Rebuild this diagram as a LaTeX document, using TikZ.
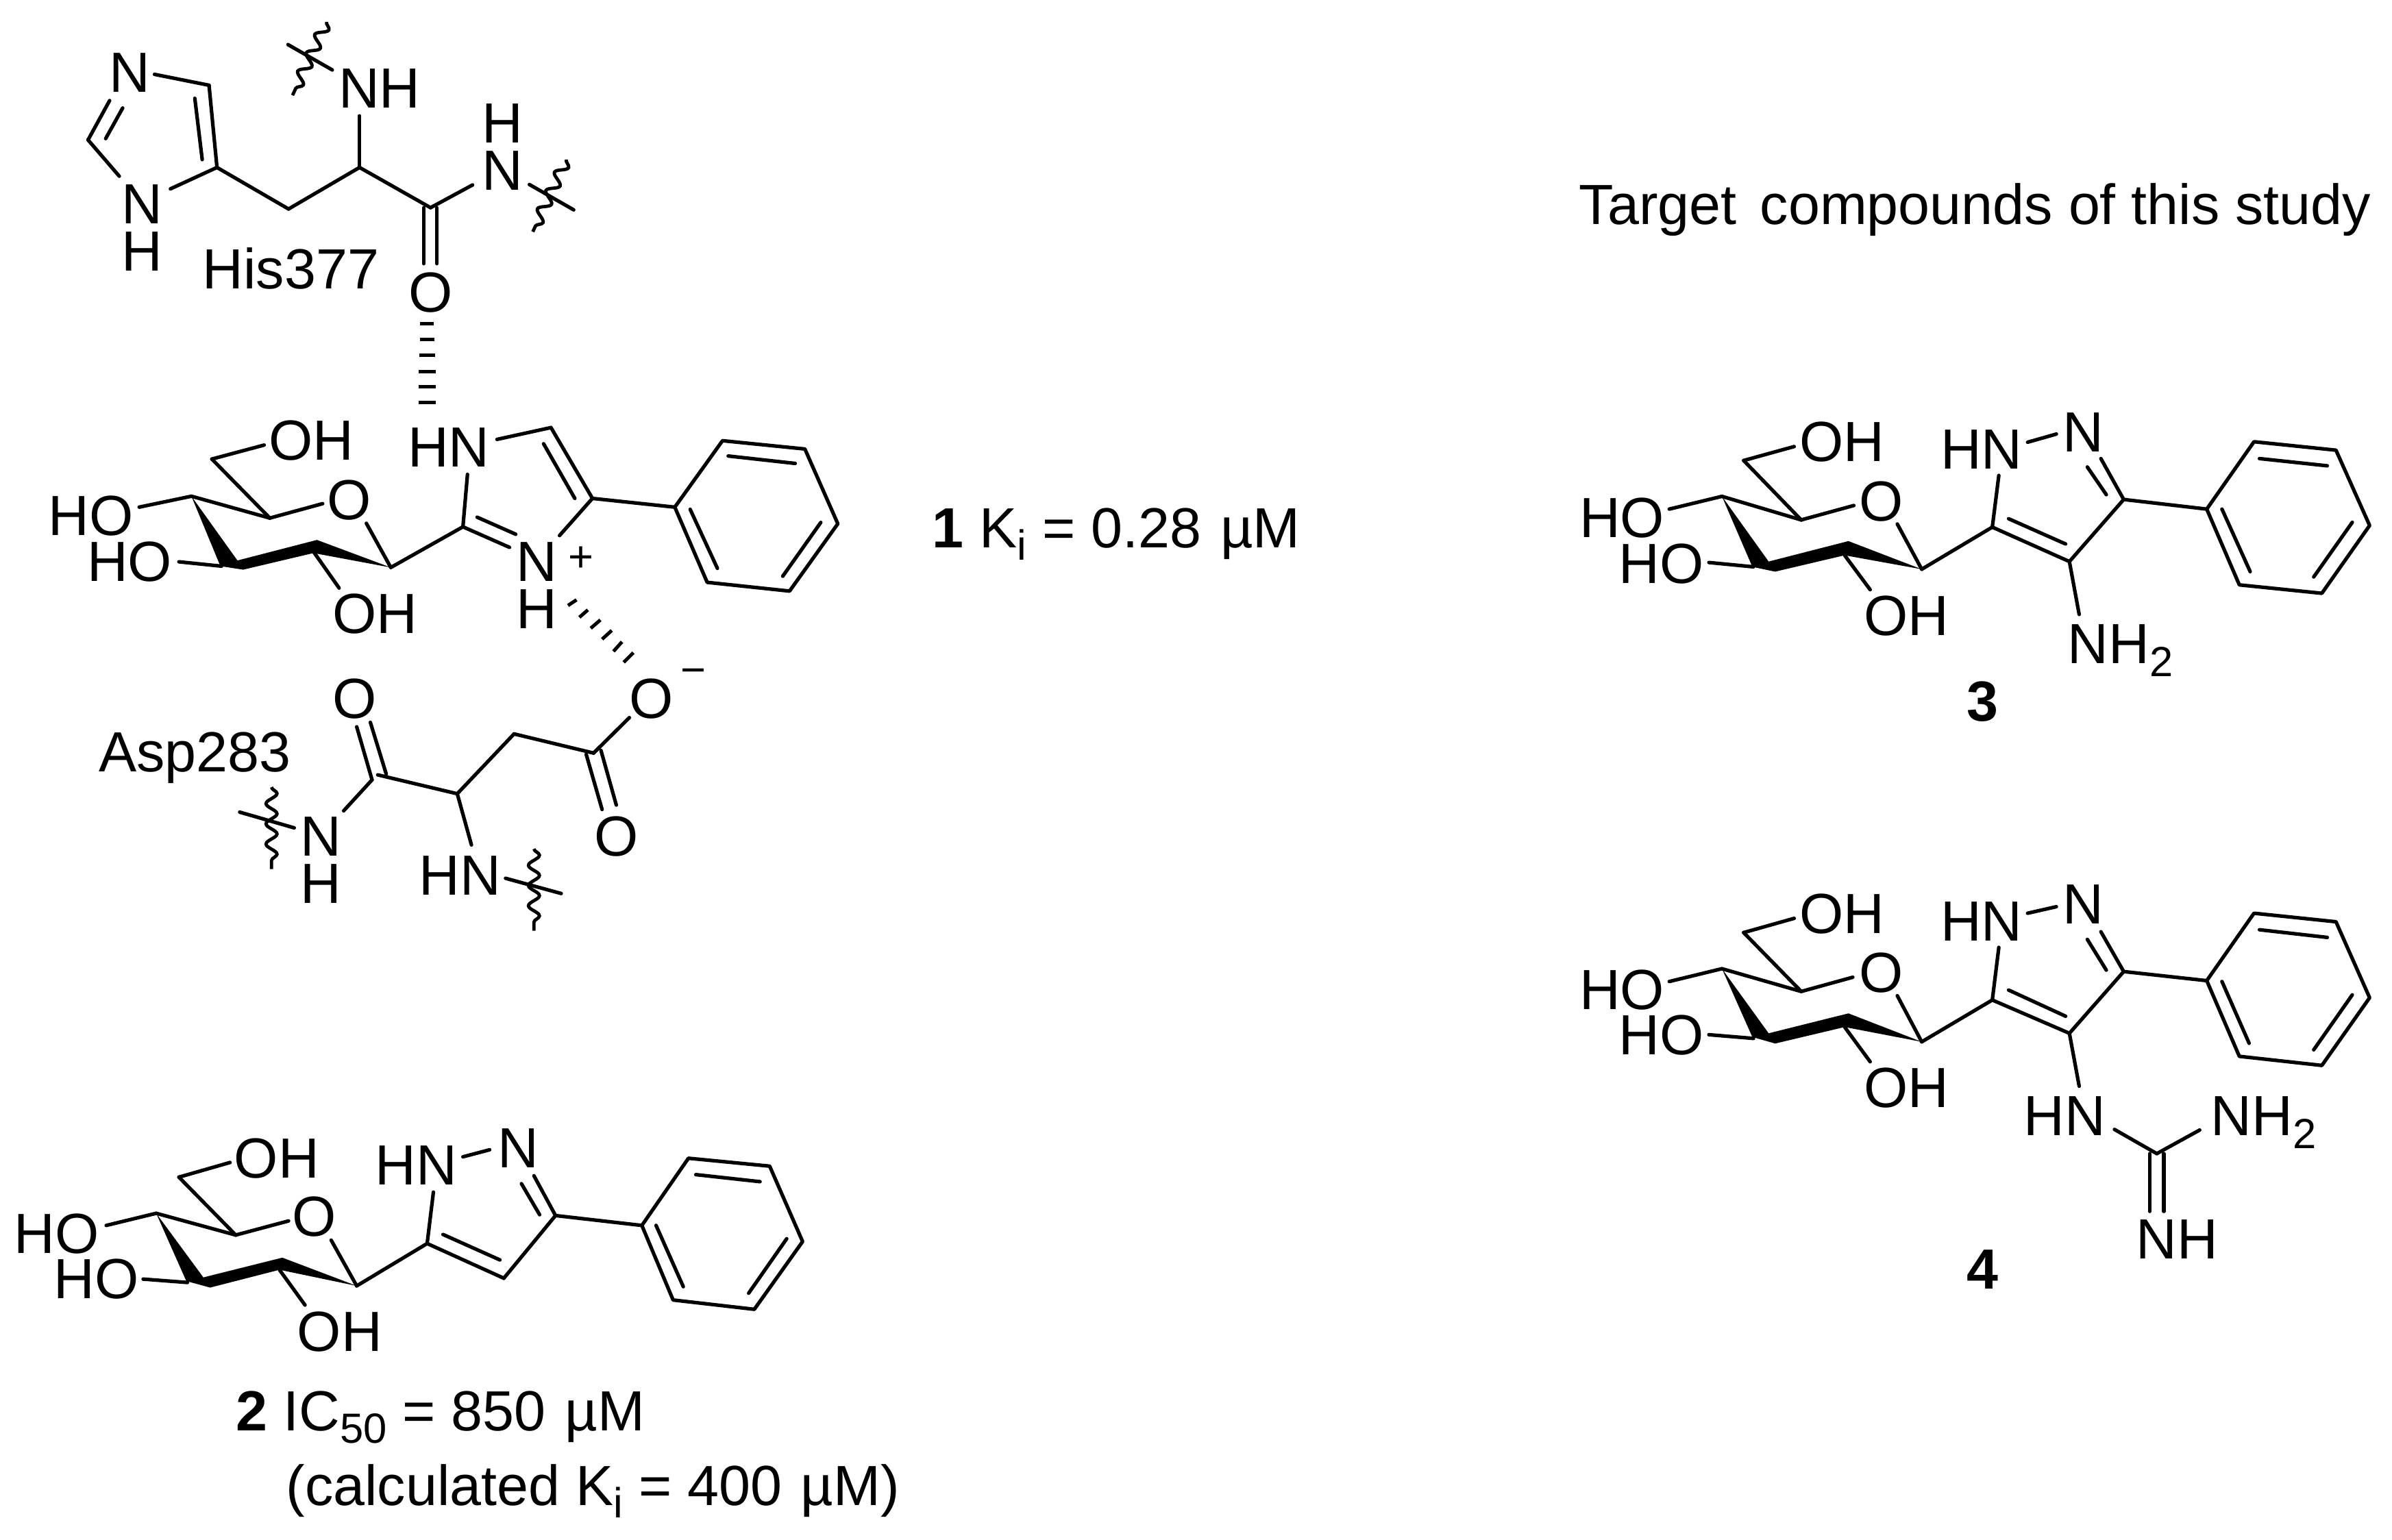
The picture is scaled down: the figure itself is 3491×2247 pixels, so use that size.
\documentclass[tikz,border=0pt]{standalone}
\usepackage{fontspec}
\setmainfont{Liberation Sans}
\usetikzlibrary{decorations.pathmorphing}
\newcommand\sbs[1]{\raisebox{-0.22em}{\fontsize{17.5pt}{17.5pt}\selectfont #1}}
\newcommand\mumol{\hspace{0.06em}µM}
\newcommand\pts[1]{\foreach \n/\x/\y in {#1}{\coordinate (\n) at (\x,\y);}}
\newcommand\bonds[1]{\foreach \p/\q in {#1}{\draw[bond] (\p)--(\q);}}
% sugar ring shared by all four molecules
\newcommand\sugarring[1]{%
  \bonds{#11/#12,#12/#13,#13/#14,#13/#15,#15/#16,#18/#19,#110/#111,#112/#113}%
  \fill (#15)--(#140)--(#141)--(#142)--(#112)--(#143)--(#144)--cycle;}
% pyrazole and phenyl shared by 2, 3 and 4
\newcommand\pyrazole[1]{%
  \bonds{#112/#114,#114/#115,#116/#117,#118/#119,#120/#121,#119/#122,#122/#114,#123/#124,#119/#125}%
  \phenyl{#1}}
\newcommand\phenyl[1]{%
  \draw[bond] (#125)--(#126)--(#127)--(#128)--(#129)--(#130)--cycle;
  \bonds{#131/#132,#133/#134,#135/#136}}
\tikzset{
  bond/.style={line width=0.052cm,line cap=round,line join=round},
  hashbar/.style={line width=0.05cm},
  wavy/.style={line width=0.048cm,decorate,decoration={snake,segment length=0.295cm,amplitude=0.08cm}},
  lbl/.style={anchor=base,inner sep=0pt,font=\fontsize{23.5pt}{26pt}\selectfont},
  lbll/.style={lbl,anchor=base west},
  chg/.style={anchor=base,inner sep=0pt,font=\fontsize{18pt}{20pt}\selectfont},
  zA/.style={x=0.00829cm,y=-0.006378cm},
  zB/.style={x=0.00829cm,y=-0.003827cm},
  zC/.style={x=0.00829cm,y=-0.004126cm},
  zD/.style={x=0.007915cm,y=-0.003508cm},
  zE/.style={x=0.007915cm,y=-0.004146cm},
}
\begin{document}
\begin{tikzpicture}[x=0.01cm,y=-0.01cm]
\useasboundingbox (0,0) rectangle (3491,2247);
\fill[white] (0,0) rectangle (3491,2247);

%%% Molecule 1 with His377
\begin{scope}[zA]
\pts{a1/272/170,a2/368/195,a3/382/383,a4/300/432,a5/210/403,a6/155/320,a7/193/230,a8/343/225,a9/356/365,a10/186/317,a11/216/247,a12/508/478,a13/633/383,a14/758/475,a15/633/265,a16/832/423,a17/746/475,a18/746/603,a19/769/475,a20/769/603,
w1/575/50,w2/515/218,w3/507/102,w4/585/160,w5/997/365,w6/938/530,w7/932/422,w8/1010/480}
\bonds{a1/a2,a2/a3,a8/a9,a3/a4,a5/a6,a6/a7,a10/a11,a3/a12,a12/a13,a13/a14,a13/a15,a14/a16,a17/a18,a19/a20,w3/w4,w7/w8}
\draw[wavy] (w1)--(w2);
\draw[wavy] (w5)--(w6);
\node[lbl] (hisN) at (228,210) {N};
\node[lbl] (hisNa) at (250,512) {N};
\node[lbl] (hisHa) at (250,620) {H};
\node[lbl] (hisNH) at (668,247) {NH};
\node[lbl] (hisHb) at (885,326) {H};
\node[lbl] (hisNb) at (885,435) {N};
\node[lbl] (hisO) at (758,714) {O};
\node[lbl] (hisname) at (512,660) {His377};
\foreach \yy/\ww in {741/12,776/13,813/14,850/15,885/15,920/15}{\draw[hashbar] (752-\ww,\yy)--(752+\ww,\yy);}

%%% sugar and imidazolium
\pts{b1/465/1018,b2/373/1050,b3/475/1185,b4/568/1152,b5/337/1135,b6/245/1160,b40/388/1295,b41/428/1303,b42/552/1265,b43/558/1235,b44/418/1282,b8/315/1285,b9/390/1295,b10/552/1262,b11/597/1345,b12/688/1298,b13/645/1197,
b14/815/1205,b15/823/1085,b16/875/1005,b17/970/978,b18/1043/1140,b19/957/1015,b20/1012/1140,b21/985/1225,b22/897/1252,b23/840/1183,b24/908/1222,
b25/1188/1160,b26/1272/1008,b27/1417/1027,b28/1475/1198,b29/1390/1352,b30/1245/1332,b31/1282/1043,b32/1400/1060,b33/1445/1195,b34/1378/1318,b35/1215/1165,b36/1263/1300}
\sugarring{b}
\bonds{b12/b14,b14/b15,b16/b17,b17/b18,b19/b20,b18/b21,b14/b22,b23/b24,b18/b25}
\phenyl{b}
\node[lbl] (bOH) at (548,1052) {OH};
\node[lbl] (bO) at (615,1188) {O};
\node[lbl] (bHO) at (160,1225) {HO};
\node[lbl] (bHOb) at (228,1330) {HO};
\node[lbl] (bOHb) at (660,1448) {OH};
\node[lbl] (bHN) at (790,1068) {HN};
\node[lbl] (bN) at (945,1330) {N};
\node[lbl] (bH) at (945,1438) {H};
\node[chg] (bplus) at (1023,1308) {+};
\foreach \xa/\ya/\xb/\yb in {1000/1385/1015/1372,1020/1412/1035/1395,1040/1437/1057/1418,1060/1462/1077/1442,1080/1490/1095/1468,1098/1515/1115/1493}{\draw[hashbar] (\xa,\ya)--(\xb,\yb);}
\end{scope}

%%% Asp283
\begin{scope}[shift={(0,900)},zB]
\pts{s1/628/420,s2/655/622,s3/652/403,s4/680/600,s5/665/603,s6/805/675,s7/905/447,s8/1045/520,s9/1108/385,s10/1032/525,s11/1060/735,s12/1058/510,s13/1085/718,s14/830/870,s15/605/740,
s16/478/650,s17/478/962,s18/422/745,s19/518/805,s20/940/885,s21/940/1197,s22/890/997,s23/988/1055}
\bonds{s1/s2,s3/s4,s5/s6,s6/s7,s7/s8,s8/s9,s10/s11,s12/s13,s6/s14,s2/s15,s18/s19,s22/s23}
\draw[wavy] (s16)--(s17);
\draw[wavy] (s20)--(s21);
\node[lbl] (aspO) at (1147,388) {O};
\node[chg] (aspminus) at (1221,259) {−};
\node[lbl] (aspOb) at (625,388) {O};
\node[lbl] (aspOc) at (1085,912) {O};
\node[lbl] (aspN) at (565,912) {N};
\node[lbl] (aspH) at (565,1093) {H};
\node[lbl] (aspHN) at (810,1062) {HN};
\node[lbl] (aspname) at (343,592) {Asp283};
\end{scope}

\node[lbll] (k1) at (1360,799) {\textbf{1} K\sbs{i} = 0.28 \mumol};

%%% Molecule 2
\begin{scope}[shift={(0,1600)},zC]
\pts{c1/405/235,c2/315/287,c3/415/492,c4/508/442,c5/275/415,c6/187/458,c40/328/655,c41/370/678,c42/492/615,c43/497/572,c44/358/642,c8/252/648,c9/330/660,c10/492/615,c11/537/740,c12/628/672,c13/583/510,c14/752/522,c15/763/340,c16/815/215,c17/862/190,c18/940/282,c19/978/423,c20/918/310,c21/950/420,c22/887/645,c23/780/490,c24/880/580,c25/1130/458,c26/1212/220,c27/1355/248,c28/1413/515,c29/1328/755,c30/1185/722,c31/1225/278,c32/1338/303,c33/1385/505,c34/1318/698,c35/1155/458,c36/1203/675}
\sugarring{c}
\pyrazole{c}
\node[lbl] (cOH) at (487,290) {OH};
\node[lbl] (cO) at (553,497) {O};
\node[lbl] (cHO) at (100,557) {HO};
\node[lbl] (cHOb) at (170,717) {HO};
\node[lbl] (cOHb) at (598,903) {OH};
\node[lbl] (cHN) at (733,315) {HN};
\node[lbl] (cN) at (912,253) {N};
\node[lbll] (k2) at (415,1185) {\textbf{2} IC\sbs{50} = 850 \mumol};
\node[lbll] (k2b) at (503,1450) {(calculated K\sbs{i} = 400 \mumol)};
\end{scope}

\node[lbll] (title) at (2304,327) {Target\hspace{0.14em} compounds of this study};

%%% Molecule 3
\begin{scope}[shift={(2250,550)},zD]
\pts{d1/465/290,d2/372/348,d3/478/595,d4/575/535,d5/332/497,d6/235/550,d40/388/790,d41/430/810,d42/558/742,d43/565/683,d44/418/768,d8/308/772,d9/390/790,d10/558/742,d11/605/885,d12/700/800,d13/655/612,d14/830/625,d15/842/410,d16/895/272,d17/948/238,d18/1030/340,d19/1072/510,d20/1005/375,d21/1040/490,d22/972/768,d23/860/590,d24/965/695,d25/1225/550,d26/1312/270,d27/1463/305,d28/1525/618,d29/1437/900,d30/1285/865,d31/1322/340,d32/1447/370,d33/1493/605,d34/1422/832,d35/1253/550,d36/1305/810,d50/990/988}
\sugarring{d}
\pyrazole{d}
\bonds{d22/d50}
\node[lbl] (dOH) at (553,352) {OH};
\node[lbl] (dO) at (625,600) {O};
\node[lbl] (dHO) at (148,667) {HO};
\node[lbl] (dHOb) at (220,858) {HO};
\node[lbl] (dOHb) at (672,1075) {OH};
\node[lbl] (dHN) at (810,382) {HN};
\node[lbl] (dN) at (998,313) {N};
\node[lbll] (dNH) at (968,1193) {NH\sbs{2}};
\node[lbl] (dnum) at (812,1430) {\textbf{3}};
\end{scope}

%%% Molecule 4
\begin{scope}[shift={(2250,1250)},zE]
\pts{e1/465/218,e2/372/268,e3/478/475,e4/573/425,e5/332/395,e6/235/440,e40/388/635,e41/430/658,e42/558/600,e43/565/552,e44/418/622,e8/308/627,e9/390/640,e10/558/600,e11/605/722,e12/700/652,e13/655/490,e14/830/505,e15/842/320,e16/895/200,e17/948/177,e18/1030/265,e19/1072/405,e20/1005/292,e21/1040/400,e22/972/622,e23/860/470,e24/965/562,e25/1225/437,e26/1312/200,e27/1463/230,e28/1525/497,e29/1437/735,e30/1285/703,e31/1322/258,e32/1447/285,e33/1493/487,e34/1422/680,e35/1253/440,e36/1303/657,
e50/990/808,e51/1055/960,e52/1133/1045,e53/1212/962,e54/1120/1045,e55/1120/1248,e56/1146/1045,e57/1146/1248}
\sugarring{e}
\pyrazole{e}
\bonds{e22/e50,e51/e52,e52/e53,e54/e55,e56/e57}
\node[lbl] (eOH) at (553,272) {OH};
\node[lbl] (eO) at (625,477) {O};
\node[lbl] (eHO) at (148,538) {HO};
\node[lbl] (eHOb) at (220,697) {HO};
\node[lbl] (eOHb) at (672,882) {OH};
\node[lbl] (eHN) at (810,297) {HN};
\node[lbl] (eN) at (998,237) {N};
\node[lbl] (eHNb) at (963,982) {HN};
\node[lbll] (eNH) at (1232,982) {NH\sbs{2}};
\node[lbl] (eNHb) at (1170,1415) {NH};
\node[lbl] (enum) at (812,1520) {\textbf{4}};
\end{scope}
\end{tikzpicture}
\end{document}
